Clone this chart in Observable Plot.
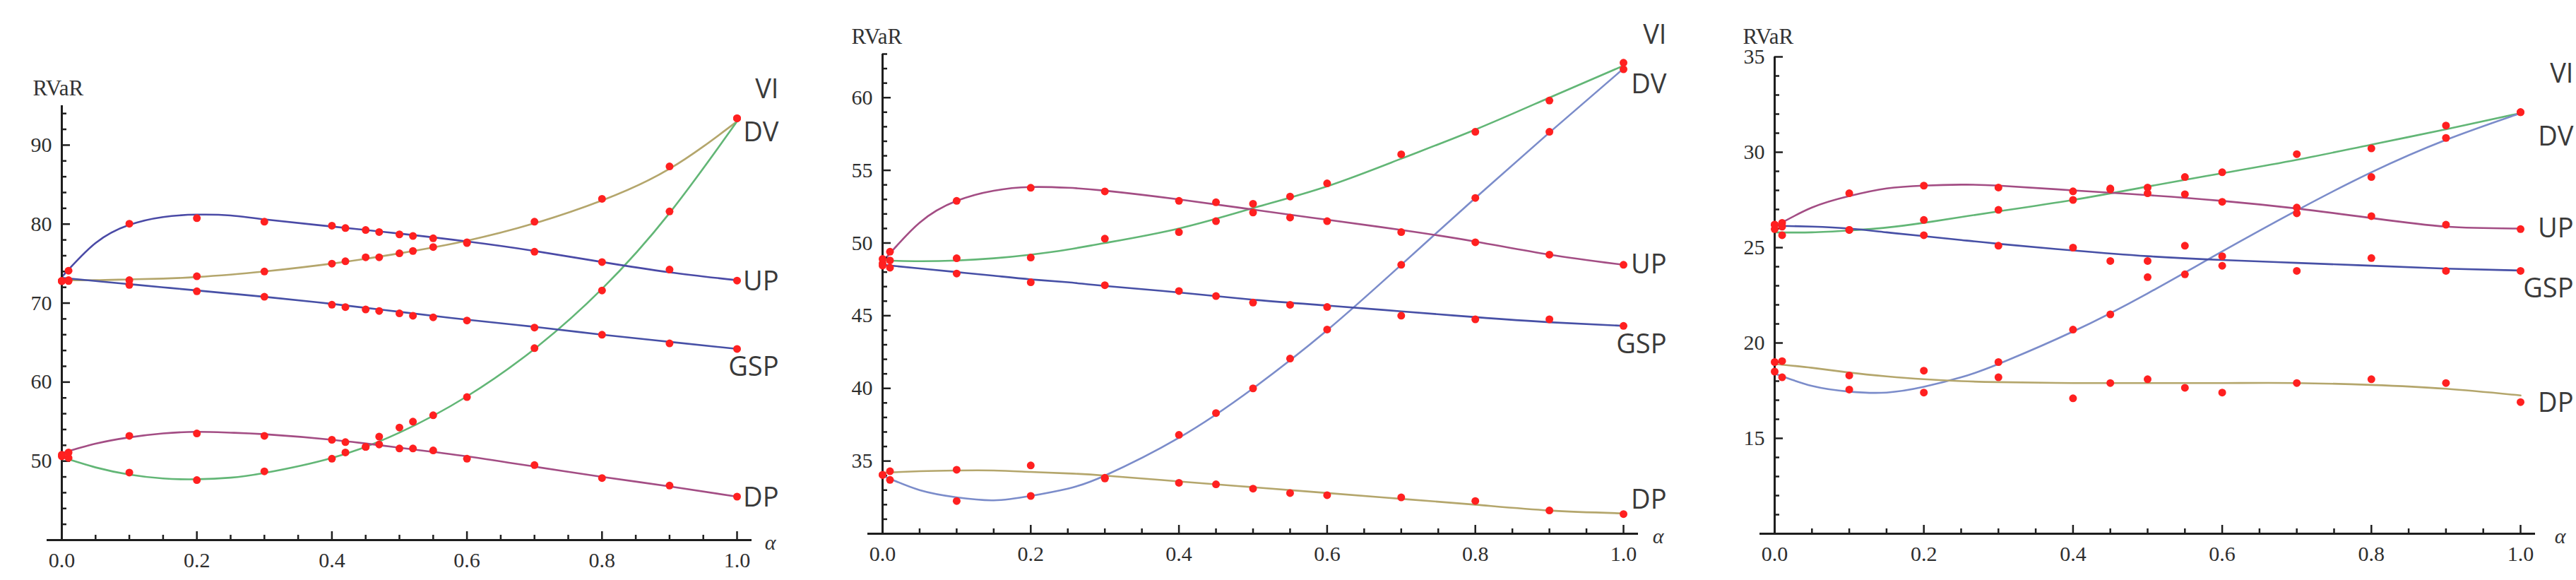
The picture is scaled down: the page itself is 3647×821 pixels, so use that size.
<!DOCTYPE html>
<html><head><meta charset="utf-8">
<script src="https://cdn.jsdelivr.net/npm/d3@7"></script>
<script src="https://cdn.jsdelivr.net/npm/@observablehq/plot@0.6"></script>
<style>
body{margin:0;background:#fff;}
#wrap{position:relative;width:3647px;height:821px;overflow:hidden;background:#fff;}
.panel{position:absolute;top:0;}
</style></head><body><div id="wrap"></div>
<script>
// ---------- DATA ----------
const seriesNames = ["VI", "DV", "UP", "GSP", "DP"];
const xTicks = [0, 0.2, 0.4, 0.6, 0.8, 1.0];
const curveAlpha = [0, 0.05, 0.1, 0.15, 0.2, 0.25, 0.3, 0.4, 0.5, 0.6, 0.7, 0.8, 0.9, 1.0];

// Panel 1
const p1Alpha = [0, 0.01, 0.1, 0.2, 0.3, 0.4, 0.42, 0.45, 0.47, 0.5, 0.52, 0.55, 0.6, 0.7, 0.8, 0.9, 1.0];
const p1VIdots  = [72.8, 72.9, 72.9, 73.4, 74.0, 75.0, 75.3, 75.8, 75.8, 76.3, 76.6, 77.1, 77.7, 80.3, 83.2, 87.3, 93.4];
const p1DVdots  = [50.6, 50.4, 48.55, 47.6, 48.7, 50.3, 51.1, 51.8, 53.1, 54.25, 55.0, 55.8, 58.1, 64.3, 71.6, 81.6, 93.4];
const p1UPdots  = [72.8, 74.1, 80.05, 80.75, 80.3, 79.8, 79.5, 79.25, 79.0, 78.7, 78.5, 78.2, 77.6, 76.5, 75.2, 74.25, 72.85];
const p1GSPdots = [72.8, 72.8, 72.3, 71.5, 70.8, 69.8, 69.5, 69.2, 69.0, 68.7, 68.4, 68.2, 67.8, 66.9, 66.0, 64.9, 64.2];
const p1DPdots  = [50.8, 51.1, 53.2, 53.5, 53.2, 52.7, 52.4, 51.8, 52.1, 51.6, 51.6, 51.35, 50.3, 49.5, 47.85, 46.9, 45.5];
const p1VIcurve  = [72.9, 72.9, 73.0, 73.1, 73.3, 73.6, 74.0, 75.0, 76.3, 77.9, 80.1, 83.0, 87.0, 93.0];
const p1DVcurve  = [50.5, 49.2, 48.3, 47.8, 47.7, 47.9, 48.5, 50.4, 53.6, 58.2, 64.2, 71.8, 81.4, 93.0];
const p1UPcurve  = [73.3, 77.6, 79.9, 80.9, 81.2, 81.1, 80.6, 79.7, 78.8, 77.8, 76.6, 75.2, 73.9, 72.9];
const p1GSPcurve = [73.2, 72.8, 72.4, 72.0, 71.6, 71.2, 70.8, 69.9, 68.9, 67.9, 67.0, 66.0, 65.1, 64.2];
const p1DPcurve  = [51.0, 52.2, 53.0, 53.5, 53.7, 53.6, 53.4, 52.7, 51.7, 50.6, 49.3, 48.0, 46.8, 45.5];
const p1LabelY = [97.05, 91.6, 72.7, 61.9, 45.3];
const p1YMajor = [50, 60, 70, 80, 90];
const p1YMinor = [42, 44, 46, 48, 52, 54, 56, 58, 62, 64, 66, 68, 72, 74, 76, 78, 82, 84, 86, 88, 92, 94];

// Panel 2
const p2Alpha = [0, 0.01, 0.1, 0.2, 0.3, 0.4, 0.45, 0.5, 0.55, 0.6, 0.7, 0.8, 0.9, 1.0];
const p2VIdots  = [48.6, 48.8, 48.95, 49.0, 50.3, 50.75, 51.5, 52.7, 53.2, 54.1, 56.1, 57.65, 59.8, 62.4];
const p2DVdots  = [34.05, 33.7, 32.25, 32.6, 33.85, 36.8, 38.3, 40.0, 42.05, 44.05, 48.5, 53.1, 57.65, 61.95];
const p2UPdots  = [48.9, 49.4, 52.9, 53.8, 53.55, 52.9, 52.8, 52.1, 51.75, 51.5, 50.75, 50.05, 49.2, 48.5];
const p2GSPdots = [48.45, 48.3, 47.9, 47.3, 47.1, 46.7, 46.35, 45.9, 45.75, 45.6, 45.0, 44.75, 44.75, 44.3];
const p2DPdots  = [34.05, 34.3, 34.4, 34.7, 33.8, 33.5, 33.4, 33.1, 32.8, 32.65, 32.5, 32.25, 31.6, 31.35];
const p2VIcurve  = [48.8, 48.75, 48.8, 48.95, 49.2, 49.55, 50.0, 51.0, 52.4, 53.9, 55.8, 57.8, 60.0, 62.2];
const p2DVcurve  = [34.0, 33.0, 32.5, 32.3, 32.6, 33.1, 34.0, 36.6, 40.0, 44.0, 48.5, 53.1, 57.6, 62.0];
const p2UPcurve  = [48.7, 51.4, 52.9, 53.6, 53.85, 53.8, 53.6, 53.0, 52.3, 51.6, 50.9, 50.1, 49.2, 48.5];
const p2GSPcurve = [48.5, 48.25, 48.0, 47.75, 47.5, 47.3, 47.05, 46.6, 46.1, 45.7, 45.3, 44.9, 44.55, 44.3];
const p2DPcurve  = [34.2, 34.3, 34.35, 34.35, 34.25, 34.15, 34.0, 33.6, 33.2, 32.8, 32.4, 32.0, 31.6, 31.4];
const p2LabelY = [64.3, 60.9, 48.5, 43.0, 32.3];
const p2YMajor = [35, 40, 45, 50, 55, 60];
const p2YMinor = [31, 32, 33, 34, 36, 37, 38, 39, 41, 42, 43, 44, 46, 47, 48, 49, 51, 52, 53, 54, 56, 57, 58, 59, 61, 62, 63];

// Panel 3
const p3Alpha = [0, 0.01, 0.1, 0.2, 0.3, 0.4, 0.45, 0.5, 0.55, 0.6, 0.7, 0.8, 0.9, 1.0];
const p3VIdots  = [25.97, 26.1, 25.93, 26.45, 26.98, 27.5, 28.1, 28.15, 28.7, 28.95, 29.9, 30.2, 31.4, 32.1];
const p3DVdots  = [18.5, 18.2, 17.56, 17.4, 19.0, 20.7, 21.5, 23.45, 23.6, 24.05, 26.8, 28.7, 30.75, 32.1];
const p3UPdots  = [26.2, 26.3, 27.85, 28.25, 28.15, 27.95, 28.05, 27.85, 27.8, 27.4, 27.1, 26.65, 26.2, 25.97];
const p3GSPdots = [26.2, 25.65, 25.93, 25.65, 25.1, 25.0, 24.3, 24.3, 25.1, 24.55, 23.78, 24.45, 23.78, 23.78];
const p3DPdots  = [19.0, 19.05, 18.3, 18.55, 18.2, 17.1, 17.9, 18.1, 17.65, 17.4, 17.9, 18.1, 17.9, 16.9];
const p3VIcurve  = [25.8, 25.8, 25.9, 26.05, 26.3, 26.6, 26.9, 27.5, 28.2, 28.9, 29.6, 30.4, 31.2, 32.05];
const p3DVcurve  = [18.4, 17.75, 17.45, 17.4, 17.7, 18.2, 18.9, 20.6, 22.6, 24.8, 26.95, 28.95, 30.65, 32.05];
const p3UPcurve  = [26.1, 27.1, 27.7, 28.1, 28.25, 28.3, 28.25, 28.0, 27.75, 27.45, 27.05, 26.55, 26.1, 26.0];
const p3GSPcurve = [26.15, 26.1, 26.0, 25.8, 25.6, 25.4, 25.2, 24.85, 24.55, 24.35, 24.2, 24.05, 23.9, 23.8];
const p3DPcurve  = [18.9, 18.7, 18.45, 18.25, 18.1, 18.0, 17.95, 17.9, 17.9, 17.9, 17.9, 17.8, 17.6, 17.25];
const p3LabelY = [34.1, 30.8, 25.97, 22.85, 16.85];
const p3YMajor = [15, 20, 25, 30, 35];
const p3YMinor = [11, 12, 13, 14, 16, 17, 18, 19, 21, 22, 23, 24, 26, 27, 28, 29, 31, 32, 33, 34];

// ---------- STYLE ----------
const C = {blue: "#4a4aa6", gsp: "#4750a6", tan: "#b4a66c", green: "#62b676", purple: "#a34d84", light: "#7b8cca"};
const panels = [
  {left: 0, width: 1150, mL: 87, mR: 107, mT: 149, mB: 57, yDomain: [40, 95],
   alpha: p1Alpha, dots: [p1VIdots, p1DVdots, p1UPdots, p1GSPdots, p1DPdots],
   curves: [p1VIcurve, p1DVcurve, p1UPcurve, p1GSPcurve, p1DPcurve],
   colors: [C.tan, C.green, C.blue, C.gsp, C.purple],
   labelY: p1LabelY, yMajor: p1YMajor, yMinor: p1YMinor, labelDx: 59, alphaDx: 47, rvDx: -41, rvDy: -37},
  {left: 1150, width: 1250, mL: 99, mR: 102, mT: 76, mB: 66, yDomain: [30, 63],
   alpha: p2Alpha, dots: [p2VIdots, p2DVdots, p2UPdots, p2GSPdots, p2DPdots],
   curves: [p2VIcurve, p2DVcurve, p2UPcurve, p2GSPcurve, p2DPcurve],
   colors: [C.green, C.light, C.purple, C.gsp, C.tan],
   labelY: p2LabelY, yMajor: p2YMajor, yMinor: p2YMinor, labelDx: 61, alphaDx: 49, rvDx: -44, rvDy: -37},
  {left: 2400, width: 1247, mL: 112, mR: 79, mT: 80, mB: 66, yDomain: [10, 35],
   alpha: p3Alpha, dots: [p3VIdots, p3DVdots, p3UPdots, p3GSPdots, p3DPdots],
   curves: [p3VIcurve, p3DVcurve, p3UPcurve, p3GSPcurve, p3DPcurve],
   colors: [C.green, C.light, C.purple, C.gsp, C.tan],
   labelY: p3LabelY, yMajor: p3YMajor, yMinor: p3YMinor, labelDx: 75, alphaDx: 56, rvDx: -45, rvDy: -41}
];

const xMinor = d3.range(1, 20).map(i => i / 20).filter(v => Math.round(v * 20) % 4 !== 0);
const AX = "#1e1e1e";
const serif = "'Liberation Serif', 'Times New Roman', serif";
const sans = "'Open Sans', 'Noto Sans', sans-serif";

function makePanel(p) {
  const ymin = p.yDomain[0];
  const marks = [];
  // curves
  p.curves.forEach((cv, k) => {
    const rows = curveAlpha.map((a, i) => ({a, v: cv[i]}));
    marks.push(Plot.line(rows, {x: "a", y: "v", curve: "natural", stroke: p.colors[k], strokeWidth: 2.6}));
  });
  // axes lines
  marks.push(Plot.ruleY([ymin], {x1: 0, x2: 1, insetLeft: -21, insetRight: -21, stroke: AX, strokeWidth: 3}));
  marks.push(Plot.ruleX([0], {y1: ymin, y2: p.yDomain[1], stroke: AX, strokeWidth: 3}));
  // x ticks (inward, upward)
  marks.push(Plot.ruleX(xTicks, {y1: ymin, y2: ymin, insetBottom: 12, stroke: AX, strokeWidth: 2.5}));
  marks.push(Plot.ruleX(xMinor, {y1: ymin, y2: ymin, insetBottom: 7, stroke: AX, strokeWidth: 2.5}));
  // y ticks (inward, rightward)
  marks.push(Plot.ruleY(p.yMajor, {x1: 0, x2: 0, insetRight: -12, stroke: AX, strokeWidth: 2.5}));
  marks.push(Plot.ruleY(p.yMinor, {x1: 0, x2: 0, insetRight: -7, stroke: AX, strokeWidth: 2.5}));
  // tick labels
  marks.push(Plot.axisX({ticks: xTicks, tickFormat: d3.format(".1f"), tickSize: 0, tickPadding: 17, fontSize: 30, label: null}));
  marks.push(Plot.axisY({ticks: p.yMajor, tickFormat: d => String(d), tickSize: 0, tickPadding: 14, fontSize: 30, label: null}));
  // dots
  p.dots.forEach(ds => {
    const rows = p.alpha.map((a, i) => ({a, v: ds[i]}));
    marks.push(Plot.dot(rows, {x: "a", y: "v", r: 5.5, fill: "#ff2020", stroke: "none"}));
  });
  // series labels
  const labs = seriesNames.map((n, i) => ({n, y: p.labelY[i]}));
  marks.push(Plot.text(labs, {x: () => 1, y: "y", text: "n", dx: p.labelDx, textAnchor: "end", fontSize: 38, fontFamily: sans, fill: "#3a3a3a"}));
  // axis titles
  marks.push(Plot.text(["α"], {x: () => 1, y: () => ymin, text: d => d, dx: p.alphaDx, dy: 4, fontSize: 30, fontStyle: "italic", fontFamily: serif, fill: "#333"}));
  marks.push(Plot.text(["RVaR"], {frameAnchor: "top-left", text: d => d, dx: p.rvDx, dy: p.rvDy, textAnchor: "start", fontSize: 31, fontFamily: serif, fill: "#333"}));

  const svg = Plot.plot({
    width: p.width, height: 821,
    marginLeft: p.mL, marginRight: p.mR, marginTop: p.mT, marginBottom: p.mB,
    x: {domain: [0, 1]},
    y: {domain: p.yDomain},
    style: {background: "transparent", overflow: "visible", fontFamily: serif, color: "#2e2e2e"},
    marks
  });
  const div = document.createElement("div");
  div.className = "panel";
  div.style.left = p.left + "px";
  div.appendChild(svg);
  return div;
}

const wrap = document.getElementById("wrap");
panels.forEach(p => wrap.appendChild(makePanel(p)));
</script>
</body></html>
